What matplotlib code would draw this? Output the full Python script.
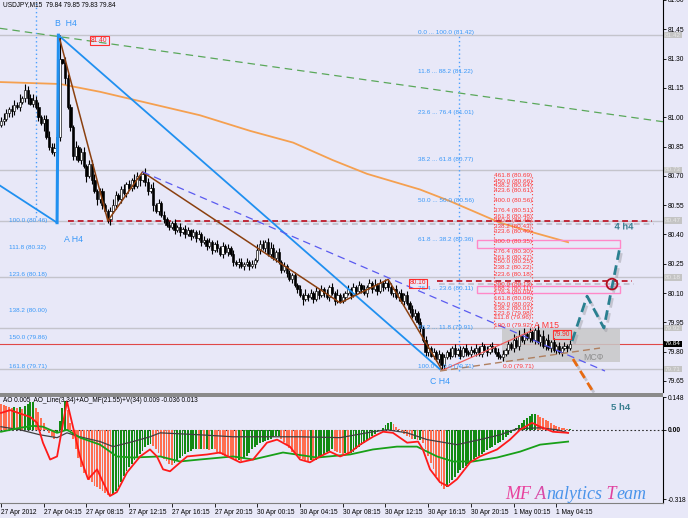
import numpy as np
import matplotlib.pyplot as plt
import matplotlib.patheffects as pe
from matplotlib.patches import Rectangle

plt.rcParams['font.family'] = ['Liberation Sans', 'DejaVu Sans']

# ---------------- data ----------------
# M15 closes, one per bar
closes = [80.98, 80.99, 81.02, 81.04, 81.03, 81.06, 81.05, 81.08, 81.10, 81.14,
          81.10, 81.07, 81.09, 81.05, 81.00, 80.97, 80.99, 80.90, 80.85, 80.82,
          80.84, 80.90, 81.30, 81.28, 81.20, 81.05, 80.95, 80.80, 80.85, 80.78,
          80.82, 80.75, 80.70, 80.76, 80.68, 80.62, 80.58, 80.62, 80.55, 80.52,
          80.48, 80.52, 80.55, 80.60, 80.58, 80.63, 80.61, 80.66, 80.64, 80.68,
          80.65, 80.70, 80.68, 80.71, 80.67, 80.62, 80.64, 80.55, 80.52, 80.56,
          80.50, 80.48, 80.45, 80.44, 80.46, 80.42, 80.44, 80.41, 80.43, 80.40,
          80.42, 80.39, 80.41, 80.38, 80.40, 80.36, 80.37, 80.34, 80.36, 80.32,
          80.35, 80.33, 80.30, 80.34, 80.31, 80.33, 80.30, 80.26, 80.25, 80.26,
          80.24, 80.25, 80.26, 80.24, 80.25, 80.27, 80.32, 80.35, 80.33, 80.36,
          80.30, 80.33, 80.28, 80.31, 80.26, 80.22, 80.24, 80.20, 80.17, 80.19,
          80.14, 80.12, 80.09, 80.07, 80.09, 80.08, 80.10, 80.07, 80.11, 80.09,
          80.12, 80.10, 80.08, 80.13, 80.10, 80.06, 80.09, 80.06, 80.08, 80.10,
          80.12, 80.09, 80.13, 80.11, 80.14, 80.12, 80.10, 80.13, 80.15, 80.12,
          80.14, 80.11, 80.15, 80.13, 80.15, 80.13, 80.10, 80.12, 80.08, 80.10,
          80.06, 80.09, 80.05, 80.02, 79.98, 80.00, 79.95, 79.92, 79.86, 79.80,
          79.82, 79.78, 79.80, 79.76, 79.79, 79.73, 79.77, 79.80, 79.78, 79.82,
          79.79, 79.81, 79.78, 79.82, 79.80, 79.79, 79.81, 79.80, 79.82, 79.79,
          79.83, 79.81, 79.80, 79.83, 79.82, 79.80, 79.78, 79.77, 79.79, 79.81,
          79.84, 79.82, 79.86, 79.83, 79.88, 79.86, 79.89, 79.87, 79.90, 79.86,
          79.91, 79.85, 79.88, 79.83, 79.86, 79.82, 79.85, 79.81, 79.83, 79.80,
          79.82, 79.83, 79.82, 79.84]
first_open = 80.96
# wick lengths in pips above / below the body
wick_up = ("2321232413" "2232312232" "3200322131" "2312231221" "1232123121"
           "3201322312" "1212121212" "2121212121" "1212121212" "2121213221"
           "2321212121" "2121312121" "2121213121" "2121212121" "3121202121"
           "2121221212" "2121212121" "2121212121" "2121212121" "2132313121"
           "1313131212" "1212")
wick_dn = ("1212321212" "3121214121" "2121312221" "2131213221" "1312121212"
           "2131221312" "1212121212" "1212121212" "1212121212" "1212121212"
           "1212121212" "1213121212" "1212121212" "1212121212" "1212121212"
           "1212121212" "2121212121" "2121212121" "2121212121" "2121212121"
           "2121212121" "2121")
high_fix = {22: 81.42, 53: 80.72, 145: 80.17, 200: 79.92}
low_fix = {40: 80.46, 127: 80.05, 165: 79.71}

price_ticks = [81.60, 81.45, 81.30, 81.15, 81.00, 80.85, 80.70, 80.55,
               80.40, 80.25, 80.10, 79.95, 79.80, 79.65]
level_prices = [81.42, 80.73, 80.47, 80.18, 79.92, 79.71]
last_price = 79.84

time_labels = ['27 Apr 2012', '27 Apr 04:15', '27 Apr 08:15', '27 Apr 12:15',
               '27 Apr 16:15', '27 Apr 20:15', '30 Apr 00:15', '30 Apr 04:15',
               '30 Apr 08:15', '30 Apr 12:15', '30 Apr 16:15', '30 Apr 20:15',
               '1 May 00:15', '1 May 04:15']

# moving average (orange) and drawn objects, anchored at (bar, price)
ma_bars = [-0.4, 22.1, 37.1, 55.8, 74.5, 93.3, 109.4, 124.3, 137.1, 156.9,
           168.2, 186.9, 199.3, 212.4]
ma_prices = [81.18, 81.17, 81.13, 81.07, 81.01, 80.93, 80.87, 80.78, 80.71,
             80.63, 80.57, 80.46, 80.41, 80.36]
zz_bars = [22, 40, 53, 127, 145, 165]
zz_prices = [81.40, 80.47, 80.72, 80.05, 80.17, 79.71]
abc_bars = [-0.4, 21, 21.5, 164.4]
abc_prices = [80.65, 80.46, 81.42, 79.71]
proj_bars = [213.9, 219.5, 225.8, 231.8]
proj_prices = [79.854, 80.084, 79.921, 80.335]

left_fib = ['100.0 (80.46)', '111.8 (80.32)', '123.6 (80.18)', '138.2 (80.00)',
            '150.0 (79.86)', '161.8 (79.71)']
left_fib_p = [80.46, 80.32, 80.18, 80.00, 79.86, 79.71]
mid_fib = ['0.0 ... 100.0 (81.42)', '11.8 ... 88.2 (81.22)', '23.6 ... 76.4 (81.01)',
           '38.2 ... 61.8 (80.77)', '50.0 ... 50.0 (80.56)', '61.8 ... 38.2 (80.36)',
           '76.4 ... 23.6 (80.11)', '88.2 ... 11.8 (79.91)', '100.0 ... 0.0 (79.71)']
mid_fib_p = [81.42, 81.22, 81.01, 80.77, 80.56, 80.36, 80.11, 79.91, 79.71]
exp_lvl = ['461.8', '450.0', '438.2', '423.6', '400.0', '376.4', '361.8', '350.0',
           '338.2', '323.6', '300.0', '276.4', '261.8', '250.0', '238.2', '223.6',
           '200.0', '188.2', '176.4', '161.8', '150.0', '138.2', '123.6', '111.8',
           '100.0']
exp_p = [80.69, 80.66, 80.64, 80.61, 80.56, 80.51, 80.48, 80.46, 80.43, 80.40,
         80.35, 80.30, 80.27, 80.25, 80.22, 80.18, 80.13, 80.11, 80.09, 80.06,
         80.03, 80.01, 79.98, 79.96, 79.92]

# AO histogram, one value per bar
ao_hist = [0.12, 0.115, 0.11, 0.105, 0.10, 0.105, 0.098, 0.102, 0.097,
           0.11, 0.12, 0.125, 0.128, 0.10, 0.08, 0.055, 0.03,
           0.005, -0.015, -0.03, -0.04, -0.01, 0.04, 0.10, 0.13, 0.09, 0.03,
           -0.04, -0.09, -0.13, -0.17, -0.20, -0.21, -0.23, -0.24, -0.255, -0.26,
           -0.27, -0.28, -0.29, -0.30, -0.305, -0.30, -0.28, -0.26, -0.24, -0.21, -0.19,
           -0.17, -0.155, -0.14, -0.125, -0.11, -0.095, -0.08, -0.07, -0.065,
           -0.075, -0.09, -0.105, -0.12, -0.135, -0.145, -0.155, -0.16,
           -0.15, -0.14, -0.13, -0.12, -0.11, -0.10, -0.095,
           -0.09, -0.088, -0.09, -0.086, -0.09, -0.087, -0.091, -0.088, -0.09,
           -0.10, -0.11, -0.115, -0.12, -0.125, -0.13, -0.135, -0.14, -0.14, -0.145,
           -0.13, -0.12, -0.105, -0.09, -0.08,
           -0.07, -0.06, -0.055, -0.05, -0.045, -0.04, -0.035, -0.03, -0.03,
           -0.04, -0.055, -0.07, -0.085, -0.10, -0.11, -0.12, -0.13,
           -0.135, -0.14, -0.145, -0.14, -0.145, -0.14,
           -0.13, -0.12, -0.11, -0.10, -0.095, -0.09,
           -0.095, -0.10, -0.105, -0.11, -0.105, -0.11, -0.105,
           -0.10, -0.09, -0.08, -0.07, -0.06, -0.05, -0.04, -0.03, -0.02,
           -0.01, 0.0, 0.01, 0.02, 0.03, 0.035,
           0.025, 0.015, 0.005, -0.01, -0.02, -0.03,
           -0.035, -0.04, -0.04, -0.045, -0.045,
           -0.06, -0.09, -0.12, -0.15, -0.18, -0.21, -0.235, -0.255, -0.27,
           -0.26, -0.245, -0.23, -0.215, -0.20, -0.185,
           -0.175, -0.165, -0.155, -0.145, -0.135, -0.125, -0.118, -0.11, -0.10,
           -0.092, -0.085, -0.078, -0.07, -0.062, -0.055, -0.045, -0.035, -0.025,
           -0.015, -0.005, 0.01, 0.02, 0.03, 0.045, 0.055, 0.065, 0.07, 0.072,
           0.068, 0.06, 0.052, 0.045, 0.038, 0.03, 0.024, 0.018, 0.012, 0.008,
           0.006, 0.005, 0.005]
ao_line_x = [0, 3.4, 10.9, 13.5, 15.7, 18.4, 21, 22.8, 24.7, 26.6, 29.6, 32.6, 36,
             38.2, 40.8, 43.4, 47.2, 52.1, 55.8, 58.4, 60.7, 63.3, 69.7, 77.2, 82,
             89.5, 94.4, 99.6, 103.4, 108.2, 112, 115.7, 119.5, 123.2, 127, 130.7,
             134.5, 139.3, 143.1, 146.8, 152.1, 156.2, 158, 160.7, 164.4, 167.4,
             170.8, 175.7, 179.4, 185.8, 190.6, 194.4, 198.9, 201.9, 206.7, 212.4]
ao_line_v = [0.077, 0.090, 0.059, 0.032, -0.059, -0.136, -0.122, 0.0, 0.13, 0.032,
             -0.122, -0.226, -0.181, -0.240, -0.303, -0.285, -0.195, -0.122, -0.090,
             -0.122, -0.181, -0.190, -0.122, -0.113, -0.104, -0.149, -0.136, -0.059,
             -0.045, -0.077, -0.136, -0.149, -0.122, -0.100, -0.122, -0.104, -0.068,
             -0.032, -0.009, -0.014, -0.059, -0.054, -0.090, -0.181, -0.240, -0.258,
             -0.226, -0.149, -0.122, -0.090, -0.045, 0.0, 0.032, 0.014, -0.009, -0.014]
sig_x = [0, 7.1, 14.6, 21, 24.7, 29.6, 37.1, 42, 49.4, 55.8, 59.6, 74.5, 86.9, 112,
         127, 139.3, 144.6, 152.1, 159.6, 170.8, 179.4, 186.9, 193.3, 201.9, 208.2, 212.4]
sig_v = [0.014, 0.0, -0.023, -0.036, -0.014, -0.032, -0.054, -0.077, -0.054, -0.032,
         -0.014, -0.023, -0.032, -0.032, -0.036, -0.009, 0.0, -0.014, -0.045, -0.068,
         -0.045, -0.023, 0.005, 0.009, 0.0, -0.014]
slow_x = [0, 7.1, 12, 15.7, 21, 24.7, 29.6, 37.1, 43.4, 49.4, 59.6, 67, 74.5, 86.9,
          94.4, 105.6, 118.4, 130.7, 139.3, 148.3, 155.8, 163.3, 169.3, 176.8, 185.8,
          194.4, 201.9, 212.4]
slow_v = [-0.009, 0.009, 0.018, 0.014, -0.014, 0.0, -0.036, -0.068, -0.122, -0.127,
          -0.122, -0.145, -0.136, -0.122, -0.136, -0.104, -0.127, -0.113, -0.090,
          -0.077, -0.077, -0.122, -0.145, -0.145, -0.127, -0.100, -0.068, -0.054]
ao_ticks = [0.148, 0.0, -0.318]
ao_tick_labels = ['0.148', '0.00', '-0.318']

# ---------------- layout helpers (pixels of the 688x518 picture) ----------------
W, H = 688, 518
BG = '#e8e8f8'


def fx(px):
    return px / W


def fy(py):
    return 1 - py / H


def px_bar(x):
    return (x - 1) / 2.67


def px_price(y):
    return 81.45 - (y - 29) / 195.5


fig = plt.figure(figsize=(6.88, 5.18), dpi=100)
fig.patch.set_facecolor(BG)
ax = fig.add_axes([0, fy(392), fx(663), 392 / H])
ax2 = fig.add_axes([0, fy(503), fx(663), (503 - 397) / H])

for a in (ax, ax2):
    a.set_facecolor(BG)
    a.set_xlim(px_bar(0), px_bar(663))
    for s in ('left', 'top', 'bottom'):
        a.spines[s].set_visible(False)
    a.spines['right'].set_color('black')
    a.spines['right'].set_linewidth(0.8)
    a.yaxis.tick_right()
    a.tick_params(axis='y', labelsize=4.8, length=2, width=0.6, pad=1.5, colors='black')

ax.set_ylim(px_price(392), px_price(0))
ax.set_xticks([])
ax.set_yticks(price_ticks)
ax.set_yticklabels(['%.2f' % p for p in price_ticks])

# ---------------- main panel ----------------
n = len(closes)
idx = np.arange(n)
opens = [first_open] + closes[:-1]
highs = [high_fix.get(i, max(opens[i], closes[i]) + int(wick_up[i]) * 0.01) for i in range(n)]
lows = [low_fix.get(i, min(opens[i], closes[i]) - int(wick_dn[i]) * 0.01) for i in range(n)]

# horizontal levels
for p in level_prices:
    ax.axhline(p, color='#c4c4cc', lw=1.0, zorder=1)
ax.axhline(last_price, color='#e04848', lw=0.8, zorder=1)

# long green trendline and orange MA
ax.plot([px_bar(0), px_bar(663)], [px_price(28), px_price(121.5)], color='#5aa85a',
        lw=0.9, dashes=(6, 4), zorder=2)
ax.plot(ma_bars, ma_prices, color='#f5a050', lw=1.3, zorder=2)

# dotted verticals of the fibo tools
ax.plot([px_bar(36)] * 2, [px_price(217), px_price(0)], color='#4aa0ff', lw=1.0,
        ls=(0, (1, 2)), zorder=2)
ax.plot([px_bar(459)] * 2, [79.70, 81.42], color='#4aa0ff', lw=1.0, ls=(0, (1, 2)), zorder=2)
for xb in (px_bar(494), px_bar(532)):
    ax.plot([xb, xb], [79.92, 80.70], color='#ff4040', lw=0.8, ls=(0, (1, 2)), zorder=2)

# red dashed resistance lines with shadow
shadow = [pe.SimpleLineShadow(offset=(1.5, -2), shadow_color='#a0a0a8', alpha=0.5), pe.Normal()]
ax.plot([px_bar(68), px_bar(652)], [80.47, 80.47], color='#c02838', lw=1.4,
        dashes=(3, 2), zorder=3, path_effects=shadow)
ax.plot([px_bar(437), px_bar(632)], [80.16, 80.16], color='#c02838', lw=1.4,
        dashes=(3, 2), zorder=3, path_effects=shadow)

# gray box and pink boxes
ax.add_patch(Rectangle((px_bar(502), px_price(362)), px_bar(620) - px_bar(502),
                       px_price(329) - px_price(362), facecolor='#c8c8c8', edgecolor='none',
                       alpha=0.85, zorder=2))
for y0, y1 in ((248, 240), (293, 286)):
    ax.add_patch(Rectangle((px_bar(477), px_price(y0)), px_bar(620) - px_bar(477),
                           px_price(y1) - px_price(y0), facecolor='none',
                           edgecolor='#ff88c8', lw=1.0, zorder=3))

# candles
ax.vlines(idx, lows, highs, color='black', lw=0.8, zorder=4)
body_lo = np.minimum(opens, closes)
body_h = np.maximum(np.abs(np.array(closes) - np.array(opens)), 0.004)
ax.bar(idx, body_h, bottom=body_lo, width=0.85,
       color=['white' if c >= o else 'black' for o, c in zip(opens, closes)],
       edgecolor='black', lw=0.45, zorder=5)

# ABC pattern (blue), zigzag (brown), dashed channel line
ax.plot(abc_bars[:2], abc_prices[:2], color='#2090f0', lw=1.3, zorder=6)
ax.plot(abc_bars[1:3], abc_prices[1:3], color='#2090f0', lw=2.2, zorder=6)
ax.plot(abc_bars[2:], abc_prices[2:], color='#2090f0', lw=1.3, zorder=6)
ax.plot(zz_bars, zz_prices, color='#8b4010', lw=1.1, zorder=6)
ax.plot([zz_bars[2], px_bar(605)], [zz_prices[2], px_price(371)], color='#5a5af0',
        lw=0.9, dashes=(6, 4), zorder=6)
ax.plot([px_bar(443), px_bar(533)], [79.706, 79.91], color='#f06060', lw=0.9, zorder=6)
ax.plot([px_bar(440), px_bar(600)], [px_price(371), px_price(348)], color='#b08060',
        lw=1.0, dashes=(5, 3), zorder=6)

# projections
ax.plot(proj_bars, proj_prices, color='#2a8090', lw=2.0, dashes=(3.5, 2), zorder=7,
        path_effects=shadow)
ax.plot([px_bar(573), px_bar(603)], [px_price(359), px_price(408)], color='#e86a10',
        lw=2.0, dashes=(3, 2), zorder=7, clip_on=False, path_effects=shadow)
ax.scatter([px_bar(612)], [px_price(284)], s=60, facecolor='none', edgecolor='#b01020',
           lw=1.3, zorder=8)

# fibo labels
for t, p in zip(left_fib, left_fib_p):
    ax.text(px_bar(9), p, t, color='#3898f8', fontsize=4.6, va='bottom', ha='left', zorder=9)
for t, p in zip(mid_fib, mid_fib_p):
    ax.text(px_bar(418), p, t, color='#3898f8', fontsize=4.6, va='bottom', ha='left', zorder=9)
for t, p in zip(exp_lvl, exp_p):
    ax.text(px_bar(494), p, '%s (%.2f)' % (t, p), color='#ff3838', fontsize=4.6,
            va='bottom', ha='left', zorder=9)
ax.text(px_bar(503), 79.71, '0.0 (79.71)', color='#ff3838', fontsize=4.6, va='bottom',
        ha='left', zorder=9)

# price tags on chart
for xp, yp, t in ((91, 40, '81.40'), (410, 283, '80.16'), (554, 334, '79.90')):
    fig.text(fx(xp), fy(yp), t, color='#ff2020', fontsize=4.8, va='center', ha='left',
             bbox=dict(boxstyle='square,pad=0.15', facecolor='none', edgecolor='#ff3030', lw=0.8))

# pattern names
fig.text(fx(66), fy(24), 'B  H4', color='#3898f8', fontsize=6.3, ha='center', va='center')
fig.text(fx(74), fy(240), 'A H4', color='#3898f8', fontsize=6.3, ha='center', va='center')
fig.text(fx(440), fy(382), 'C H4', color='#3898f8', fontsize=6.3, ha='center', va='center')
fig.text(fx(547), fy(325), 'A M15', color='#ff3838', fontsize=6.3, ha='center', va='center')
fig.text(fx(593), fy(358), 'МСФ', color='#909090', fontsize=6.3, ha='center', va='center')
fig.text(fx(624), fy(227), '4 h4', color='#3a7f90', fontsize=6.8, weight='bold',
         ha='center', va='center', path_effects=[pe.SimpleLineShadow(), pe.Normal()])
fig.text(fx(621), fy(408), '5 h4', color='#3a7f90', fontsize=6.8, weight='bold',
         ha='center', va='center')

fig.text(fx(3), fy(5), 'USDJPY,M15  79.84 79.85 79.83 79.84', color='black',
         fontsize=4.7, ha='left', va='center')

# price boxes on the right scale
for p in level_prices:
    fig.text(fx(665), ax.transData.transform((0, p))[1] / H, '%.2f' % p, color='#e8e8e8',
             fontsize=4.6, ha='left', va='center',
             bbox=dict(boxstyle='square,pad=0.12', facecolor='#c4c4c4', edgecolor='none'))
fig.text(fx(665), ax.transData.transform((0, last_price))[1] / H, '%.2f' % last_price,
         color='white', fontsize=4.6, ha='left', va='center',
         bbox=dict(boxstyle='square,pad=0.12', facecolor='black', edgecolor='none'))

# separator between panels
fig.add_artist(Rectangle((0, fy(397)), fx(663), 4 / H, transform=fig.transFigure,
                         facecolor='#8a8a8a', edgecolor='none'))

# ---------------- AO panel ----------------
ax2.set_ylim(-0.335, 0.150)
ax2.axhline(0, color='#303030', lw=0.8, ls=(0, (1.5, 2)), zorder=1)
hist_col = ['#ff6e50' if i > 0 and ao_hist[i] < ao_hist[i - 1] else '#138a13'
            for i in range(len(ao_hist))]
hist_col[0] = '#ff6e50'
ax2.bar(np.arange(len(ao_hist)), ao_hist, width=0.7, color=hist_col, lw=0, zorder=2)
ax2.plot(sig_x, sig_v, color='#404040', lw=0.9, zorder=3)
ax2.plot(slow_x, slow_v, color='#18a018', lw=1.3, zorder=3)
ax2.plot(ao_line_x, ao_line_v, color='#ff1a1a', lw=1.3, zorder=4)
ax2.set_yticks(ao_ticks)
ax2.set_yticklabels(ao_tick_labels)
ax2.get_yticklabels()[1].set_fontweight('bold')
ax2.spines['bottom'].set_visible(True)
ax2.spines['bottom'].set_color('#808080')
ax2.set_xticks(np.arange(len(time_labels)) * 16)
ax2.set_xticklabels(time_labels)
ax2.tick_params(axis='x', labelsize=4.8, length=3, width=0.6, pad=1.5, colors='black')
for lab in ax2.get_xticklabels():
    lab.set_ha('left')

fig.text(fx(3), fy(401), 'AO 0.005  AO_Line(3.34)+AO_MF(21.55)+V(34) 0.009 -0.036 0.013',
         color='black', fontsize=4.7, ha='left', va='center')

# watermark
pieces = [('MF', '#e8409c'), (' A', '#d84aa8'), ('nalytics', '#4a94ea'),
          (' T', '#e0409e'), ('eam', '#4a94ea')]
renderer = fig.canvas.get_renderer()
xpos = fx(505)
for word, col in pieces:
    t = fig.text(xpos, fy(499), word, color=col, fontsize=13, style='italic',
                 family='Liberation Serif', ha='left', va='baseline')
    xpos = t.get_window_extent(renderer).x1 / fig.bbox.width

fig.savefig('out.png', dpi=100, facecolor=BG)
